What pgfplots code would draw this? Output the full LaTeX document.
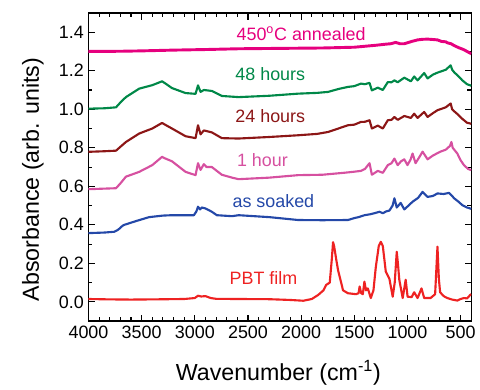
\documentclass[border=0pt]{standalone}
\usepackage{pgfplots}
\pgfplotsset{compat=1.18}
\usepackage{fontspec}
\setmainfont{Liberation Sans}
\definecolor{cAnn}{HTML}{E6007E}
\definecolor{cG}{HTML}{008848}
\definecolor{cDR}{HTML}{8C1616}
\definecolor{cP}{HTML}{D650A0}
\definecolor{cB}{HTML}{2448A8}
\definecolor{cR}{HTML}{EE2222}
\begin{document}
\begin{tikzpicture}
\begin{axis}[
  scale only axis, width=288.75pt, height=232.5pt,
  x dir=reverse, xmin=400, xmax=4000, ymin=-0.1, ymax=1.5,
  xtick={500,1000,...,4000}, minor x tick num=4,
  ytick={0,0.2,...,1.4}, minor y tick num=1,
  tick align=inside, major tick length=5pt, minor tick length=3pt,
  axis line style={line width=1pt}, every tick/.style={line width=0.8pt, black},
  /pgf/number format/assume math mode=true,
  /pgf/number format/set thousands separator={},
  yticklabel style={/pgf/number format/fixed, /pgf/number format/fixed zerofill, /pgf/number format/precision=1},
  tick label style={font=\fontsize{13.5}{13.5}\selectfont},
  xlabel={Wavenumber (cm\textsuperscript{-1})},
  ylabel={Absorbance (arb. units)},
  every axis x label/.style={at={(axis description cs:0.496,-0.168)}, anchor=center, font=\fontsize{17.5}{17.5}\selectfont},
  every axis y label/.style={at={(axis description cs:-0.145,0.46)}, rotate=90, anchor=center, font=\fontsize{17.5}{17.5}\selectfont},
  every axis plot/.append style={line width=1.6pt, line join=round},
  clip=true,
]
% PBT film
\addplot[cR] coordinates {
(4000,0.015)(3800,0.013)(3600,0.012)(3400,0.013)(3100,0.015)(3000,0.02)(2970,0.032)(2940,0.028)(2900,0.03)(2850,0.02)(2800,0.016)(2600,0.015)(2300,0.014)(2100,0.01)(1980,0.006)(1900,0.015)(1840,0.036)(1790,0.06)(1765,0.088)(1731,0.1)(1712,0.22)(1700,0.31)(1690,0.29)(1670,0.22)(1653,0.165)(1606,0.06)(1560,0.045)(1485,0.04)(1460,0.045)(1450,0.08)(1435,0.045)(1420,0.04)(1405,0.105)(1390,0.06)(1373,0.07)(1345,0.02)(1320,0.06)(1298,0.18)(1270,0.29)(1251,0.312)(1232,0.29)(1204,0.157)(1170,0.12)(1139,0.027)(1120,0.1)(1101,0.26)(1090,0.2)(1077,0.115)(1045,0.02)(1017,0.115)(999,0.027)(960,0.025)(937,0.05)(905,0.02)(868,0.07)(843,0.02)(783,0.02)(740,0.04)(718,0.287)(705,0.12)(693,0.05)(660,0.03)(625,0.02)(580,0.012)(531,0.007)(500,0.015)(469,0.02)(440,0.018)(410,0.036)(400,0.04)};
% as soaked
\addplot[cB] coordinates {
(4000,0.357)(3850,0.36)(3757,0.364)(3720,0.375)(3680,0.395)(3663,0.40)(3550,0.42)(3430,0.44)(3300,0.448)(3215,0.45)(3009,0.45)(2985,0.47)(2970,0.494)(2950,0.48)(2935,0.49)(2900,0.485)(2840,0.468)(2793,0.45)(2650,0.445)(2588,0.45)(2300,0.44)(2027,0.425)(1800,0.424)(1560,0.425)(1500,0.435)(1460,0.44)(1404,0.45)(1350,0.455)(1300,0.462)(1263,0.468)(1232,0.46)(1200,0.47)(1170,0.474)(1140,0.5)(1123,0.538)(1101,0.49)(1085,0.5)(1064,0.514)(1030,0.48)(990,0.5)(952,0.52)(900,0.54)(858,0.571)(830,0.555)(811,0.545)(760,0.55)(718,0.563)(660,0.56)(609,0.566)(580,0.55)(562,0.538)(520,0.52)(484,0.502)(440,0.49)(410,0.485)(400,0.483)};
% 1 hour
\addplot[cP] coordinates {
(4000,0.585)(3850,0.588)(3741,0.59)(3700,0.615)(3648,0.65)(3523,0.675)(3400,0.71)(3308,0.753)(3280,0.745)(3215,0.73)(3087,0.675)(2993,0.658)(2970,0.72)(2946,0.685)(2915,0.715)(2890,0.7)(2840,0.70)(2746,0.66)(2650,0.645)(2588,0.637)(2300,0.645)(2027,0.658)(1800,0.66)(1600,0.67)(1513,0.675)(1438,0.68)(1400,0.69)(1357,0.72)(1335,0.66)(1279,0.68)(1232,0.67)(1185,0.71)(1150,0.72)(1123,0.744)(1092,0.71)(1060,0.73)(1030,0.74)(1000,0.71)(970,0.74)(952,0.77)(924,0.72)(890,0.75)(858,0.78)(811,0.74)(760,0.76)(690,0.78)(640,0.79)(600,0.81)(587,0.83)(575,0.80)(531,0.77)(500,0.735)(469,0.71)(430,0.69)(400,0.684)};
% 24 hours
\addplot[cDR] coordinates {
(4000,0.779)(3850,0.782)(3741,0.785)(3700,0.805)(3648,0.83)(3523,0.874)(3400,0.9)(3308,0.929)(3280,0.92)(3215,0.9)(3087,0.86)(2993,0.85)(2970,0.917)(2946,0.87)(2915,0.89)(2840,0.88)(2746,0.85)(2588,0.848)(2300,0.856)(2027,0.865)(1850,0.872)(1747,0.882)(1650,0.9)(1560,0.917)(1500,0.92)(1438,0.934)(1400,0.935)(1357,0.943)(1335,0.9)(1279,0.915)(1232,0.9)(1185,0.943)(1150,0.945)(1123,0.96)(1092,0.945)(1030,0.965)(968,0.955)(937,0.977)(905,0.955)(843,0.986)(811,0.96)(760,0.98)(718,0.995)(640,1.01)(594,1.03)(580,1.0)(562,0.99)(520,0.97)(484,0.95)(440,0.93)(410,0.926)(400,0.924)};
% 48 hours
\addplot[cG] coordinates {
(4000,1.003)(3850,1.005)(3741,1.01)(3700,1.035)(3648,1.063)(3523,1.107)(3400,1.125)(3308,1.145)(3280,1.135)(3215,1.11)(3087,1.084)(2993,1.08)(2970,1.124)(2946,1.09)(2915,1.1)(2840,1.095)(2746,1.069)(2588,1.063)(2300,1.07)(2027,1.081)(1850,1.085)(1747,1.09)(1650,1.105)(1560,1.116)(1500,1.12)(1438,1.133)(1400,1.13)(1357,1.137)(1335,1.098)(1279,1.112)(1232,1.1)(1185,1.141)(1150,1.14)(1123,1.15)(1092,1.14)(1030,1.164)(968,1.145)(937,1.17)(905,1.15)(843,1.188)(811,1.16)(760,1.18)(718,1.19)(640,1.205)(594,1.228)(580,1.205)(562,1.193)(520,1.17)(484,1.15)(440,1.13)(410,1.124)(400,1.122)};
% 450 C annealed
\addplot[cAnn, line width=2.2pt] coordinates {
(4000,1.30)(3700,1.301)(3500,1.303)(3200,1.307)(2900,1.31)(2588,1.314)(2200,1.316)(1800,1.318)(1500,1.322)(1300,1.332)(1200,1.338)(1158,1.34)(1111,1.347)(1070,1.34)(1030,1.34)(960,1.352)(905,1.36)(860,1.363)(811,1.364)(760,1.362)(718,1.36)(680,1.352)(640,1.35)(625,1.345)(590,1.34)(562,1.331)(520,1.32)(469,1.309)(430,1.297)(400,1.288)};
\node[cAnn, font=\fontsize{13.5}{13.5}\selectfont] at (axis cs:2000,1.393) {450\textsuperscript{o}C annealed};
\node[cG, font=\fontsize{13.5}{13.5}\selectfont] at (axis cs:2290,1.182) {48 hours};
\node[cDR, font=\fontsize{13.5}{13.5}\selectfont] at (axis cs:2290,0.963) {24 hours};
\node[cP, font=\fontsize{13.5}{13.5}\selectfont] at (axis cs:2364,0.736) {1 hour};
\node[cB, font=\fontsize{13.5}{13.5}\selectfont] at (axis cs:2261,0.523) {as soaked};
\node[cR, font=\fontsize{13.5}{13.5}\selectfont] at (axis cs:2354,0.124) {PBT film};
\end{axis}
\path[use as bounding box] (current axis.south west) ++(-66.75pt,-50pt) rectangle ([shift={(3.75pt,9.75pt)}]current axis.north east);
\end{tikzpicture}
\end{document}
